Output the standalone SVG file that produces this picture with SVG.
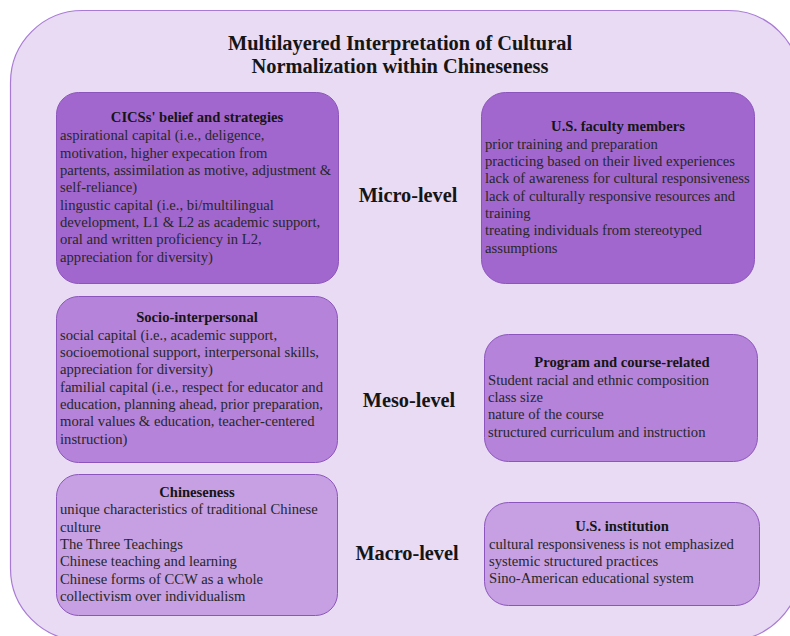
<svg xmlns="http://www.w3.org/2000/svg" width="790" height="636" viewBox="0 0 790 636">
  <style>
    .outer { fill: #e9dbf3; stroke: #a87ad6; stroke-width: 1.2; }
    .box { stroke: #8c55bd; stroke-width: 1; }
    .micro { fill: #a267cf; }
    .meso { fill: #b583da; }
    .macro { fill: #c6a0e2; }
    text { font-family: "Liberation Serif", "Times New Roman", serif; }
    .title { font-size: 20.4px; font-weight: bold; fill: #151515; text-anchor: middle; }
    .level { font-size: 20.3px; font-weight: bold; fill: #151515; text-anchor: middle; }
    .head { font-size: 14.6px; font-weight: bold; fill: #151515; text-anchor: middle; }
    .body { font-size: 14.65px; fill: #272727; }
  </style>

  <!-- frame -->
  <rect class="outer" x="10.5" y="10.5" width="790" height="630" rx="72" ry="72"/>

  <text class="title" x="400" y="50">Multilayered Interpretation of Cultural</text>
  <text class="title" x="400" y="73">Normalization within Chineseness</text>

  <!-- level labels -->
  <text class="level" x="408" y="202">Micro-level</text>
  <text class="level" x="409" y="407">Meso-level</text>
  <text class="level" x="407" y="560">Macro-level</text>

  <!-- micro level -->
  <g id="cicss-beliefs">
    <rect class="box micro" x="56.5" y="92.5" width="282" height="191" rx="22"/>
    <text class="head" x="197" y="122">CICSs' belief and strategies</text>
    <text class="body">
      <tspan x="60" y="140">aspirational capital (i.e., deligence,</tspan>
      <tspan x="60" y="157.5">motivation, higher expecation from</tspan>
      <tspan x="60" y="175">partents, assimilation as motive, adjustment &amp;</tspan>
      <tspan x="60" y="192.3">self-reliance)</tspan>
      <tspan x="60" y="209.7">lingustic capital (i.e., bi/multilingual</tspan>
      <tspan x="60" y="227">development, L1 &amp; L2 as academic support,</tspan>
      <tspan x="60" y="244.4">oral and written proficiency in L2,</tspan>
      <tspan x="60" y="261.8">appreciation for diversity)</tspan>
    </text>
  </g>

  <g id="us-faculty">
    <rect class="box micro" x="481.5" y="92.5" width="273" height="191" rx="24"/>
    <text class="head" x="618" y="131">U.S. faculty members</text>
    <text class="body">
      <tspan x="485" y="148.7">prior training and preparation</tspan>
      <tspan x="485" y="166">practicing based on their lived experiences</tspan>
      <tspan x="485" y="183.4">lack of awareness for cultural responsiveness</tspan>
      <tspan x="485" y="200.7">lack of culturally responsive resources and</tspan>
      <tspan x="485" y="218">training</tspan>
      <tspan x="485" y="235.4">treating individuals from stereotyped</tspan>
      <tspan x="485" y="252.7">assumptions</tspan>
    </text>
  </g>

  <!-- meso level -->
  <g id="socio-interpersonal">
    <rect class="box meso" x="56.5" y="296.5" width="281" height="166" rx="22"/>
    <text class="head" x="197" y="322">Socio-interpersonal</text>
    <text class="body">
      <tspan x="60" y="339.7">social capital (i.e., academic support,</tspan>
      <tspan x="60" y="357">socioemotional support, interpersonal skills,</tspan>
      <tspan x="60" y="374.4">appreciation for diversity)</tspan>
      <tspan x="60" y="391.7">familial capital (i.e., respect for educator and</tspan>
      <tspan x="60" y="409">education, planning ahead, prior preparation,</tspan>
      <tspan x="60" y="426.4">moral values &amp; education, teacher-centered</tspan>
      <tspan x="60" y="443.7">instruction)</tspan>
    </text>
  </g>

  <g id="program-course">
    <rect class="box meso" x="484.5" y="334.5" width="273" height="127" rx="24"/>
    <text class="head" x="622" y="367">Program and course-related</text>
    <text class="body">
      <tspan x="488" y="384.7">Student racial and ethnic composition</tspan>
      <tspan x="488" y="402">class size</tspan>
      <tspan x="488" y="419.4">nature of the course</tspan>
      <tspan x="488" y="436.7">structured curriculum and instruction</tspan>
    </text>
  </g>

  <!-- macro level -->
  <g id="chineseness">
    <rect class="box macro" x="56.5" y="474.5" width="281" height="141" rx="22"/>
    <text class="head" x="197" y="497">Chineseness</text>
    <text class="body">
      <tspan x="60" y="514.3">unique characteristics of traditional Chinese</tspan>
      <tspan x="60" y="531.6">culture</tspan>
      <tspan x="60" y="549">The Three Teachings</tspan>
      <tspan x="60" y="566.3">Chinese teaching and learning</tspan>
      <tspan x="60" y="583.6">Chinese forms of CCW as a whole</tspan>
      <tspan x="60" y="601">collectivism over individualism</tspan>
    </text>
  </g>

  <g id="us-institution">
    <rect class="box macro" x="484.5" y="502.5" width="275" height="103" rx="24"/>
    <text class="head" x="622" y="531">U.S. institution</text>
    <text class="body">
      <tspan x="489" y="548.7">cultural responsiveness is not emphasized</tspan>
      <tspan x="489" y="566">systemic structured practices</tspan>
      <tspan x="489" y="583.4">Sino-American educational system</tspan>
    </text>
  </g>

  <!-- no connectors in this figure -->
  <g id="connectors"/>
</svg>
